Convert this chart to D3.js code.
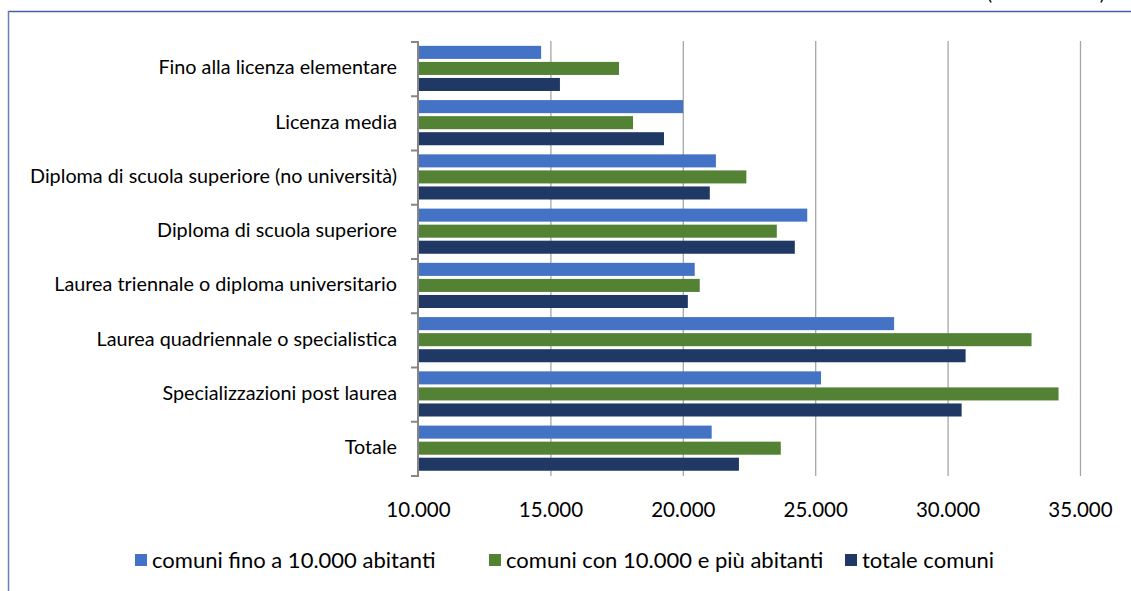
<!DOCTYPE html>
<html>
<head>
<meta charset="utf-8">
<script src="https://cdn.jsdelivr.net/npm/d3@7"></script>
<style>
  html, body { margin: 0; padding: 0; background: #fff; }
  svg { display: block; }
  text { font-family: Lato, "Open Sans", sans-serif; fill: #000; }
</style>
</head>
<body>
<svg id="chart" width="1131" height="591"></svg>
<script>
const categories = [
  "Fino alla licenza elementare",
  "Licenza media",
  "Diploma di scuola superiore (no università)",
  "Diploma di scuola superiore",
  "Laurea triennale o diploma universitario",
  "Laurea quadriennale o specialistica",
  "Specializzazioni post laurea",
  "Totale"
];
const seriesNames = [
  "comuni fino a 10.000 abitanti",
  "comuni con 10.000 e più abitanti",
  "totale comuni"
];
const seriesColors = ["#4472C4", "#548235", "#203864"];
const valuesSmall = [14650, 20010, 21250, 24700, 20450, 27980, 25220, 21090];
const valuesLarge = [17590, 18120, 22400, 23550, 20640, 33170, 34190, 23700];
const valuesTotal = [15360, 19290, 21020, 24230, 20190, 30680, 30530, 22120];
const tickValues = [10000, 15000, 20000, 25000, 30000, 35000];
const titleNote = "(valori in euro)";

const series = [valuesSmall, valuesLarge, valuesTotal];
const svg = d3.select("#chart");

// frame
svg.append("line").attr("x1", 8).attr("x2", 1131).attr("y1", 11.5).attr("y2", 11.5)
  .attr("stroke", "#4a5f9c").attr("stroke-width", 1.5);
svg.append("line").attr("x1", 8.5).attr("x2", 8.5).attr("y1", 11).attr("y2", 591)
  .attr("stroke", "#6a7fb8").attr("stroke-width", 1.5);
svg.append("text").attr("x", 987).attr("y", 0).attr("font-size", 19).attr("fill", "#000")
  .text(titleNote);

const x = d3.scaleLinear().domain([10000, 35000]).range([418, 1080]);
const y = d3.scaleBand().domain(categories).range([42, 476]).paddingInner(0).paddingOuter(0);
const ys = d3.scaleBand().domain(d3.range(3)).range([0, y.bandwidth()]).paddingInner(0).paddingOuter(0.19);

// gridlines
svg.append("g").selectAll("line").data(tickValues.slice(1)).join("line")
  .attr("x1", d => x(d) + 0.5).attr("x2", d => x(d) + 0.5)
  .attr("y1", 41).attr("y2", 476)
  .attr("stroke", "#a6a6a6").attr("stroke-width", 1.3);

// bars
const groups = svg.append("g").selectAll("g").data(categories).join("g")
  .attr("transform", d => `translate(0,${y(d)})`);
groups.selectAll("rect").data((d, i) => series.map((s, k) => ({k, v: s[i]}))).join("rect")
  .attr("x", x(10000) + 1)
  .attr("y", d => ys(d.k) + 0.8)
  .attr("height", ys.bandwidth() - 3)
  .attr("width", d => x(d.v) - x(10000) - 1)
  .attr("fill", d => seriesColors[d.k]);

// y axis
const yAxis = d3.axisLeft(y).tickSize(0).tickPadding(21);
const gy = svg.append("g").attr("transform", "translate(418,-1)").call(yAxis);
gy.select(".domain").remove();
gy.selectAll("text").attr("font-size", 19.8).attr("fill", "#000")
  .style("font-family", "Lato, 'Open Sans', sans-serif");
svg.append("line").attr("x1", 418).attr("x2", 418).attr("y1", 41).attr("y2", 477)
  .attr("stroke", "#868686").attr("stroke-width", 2);
const boundaries = categories.map(c => y(c)).concat([y.range()[1]]);
svg.append("g").selectAll("line").data(boundaries).join("line")
  .attr("x1", 411).attr("x2", 418).attr("y1", d => d).attr("y2", d => d)
  .attr("stroke", "#868686").attr("stroke-width", 2);

// x axis labels
const xAxis = d3.axisBottom(x).tickValues(tickValues).tickSize(0).tickPadding(0)
  .tickFormat(d => d3.format(",")(d).replace(/,/g, "."));
const gx = svg.append("g").attr("transform", "translate(0,502)").call(xAxis);
gx.select(".domain").remove();
gx.selectAll("text").attr("font-size", 20.5).attr("fill", "#000")
  .style("font-family", "Lato, 'Open Sans', sans-serif");

// legend
const legendX = [135, 489, 845];
const lg = svg.append("g").selectAll("g").data(seriesNames).join("g")
  .attr("transform", (d, i) => `translate(${legendX[i]},554)`);
lg.append("rect").attr("width", 12).attr("height", 12).attr("fill", (d, i) => seriesColors[i]);
lg.append("text").attr("x", 17).attr("y", 14).attr("font-size", 22).text(d => d);
</script>
</body>
</html>
